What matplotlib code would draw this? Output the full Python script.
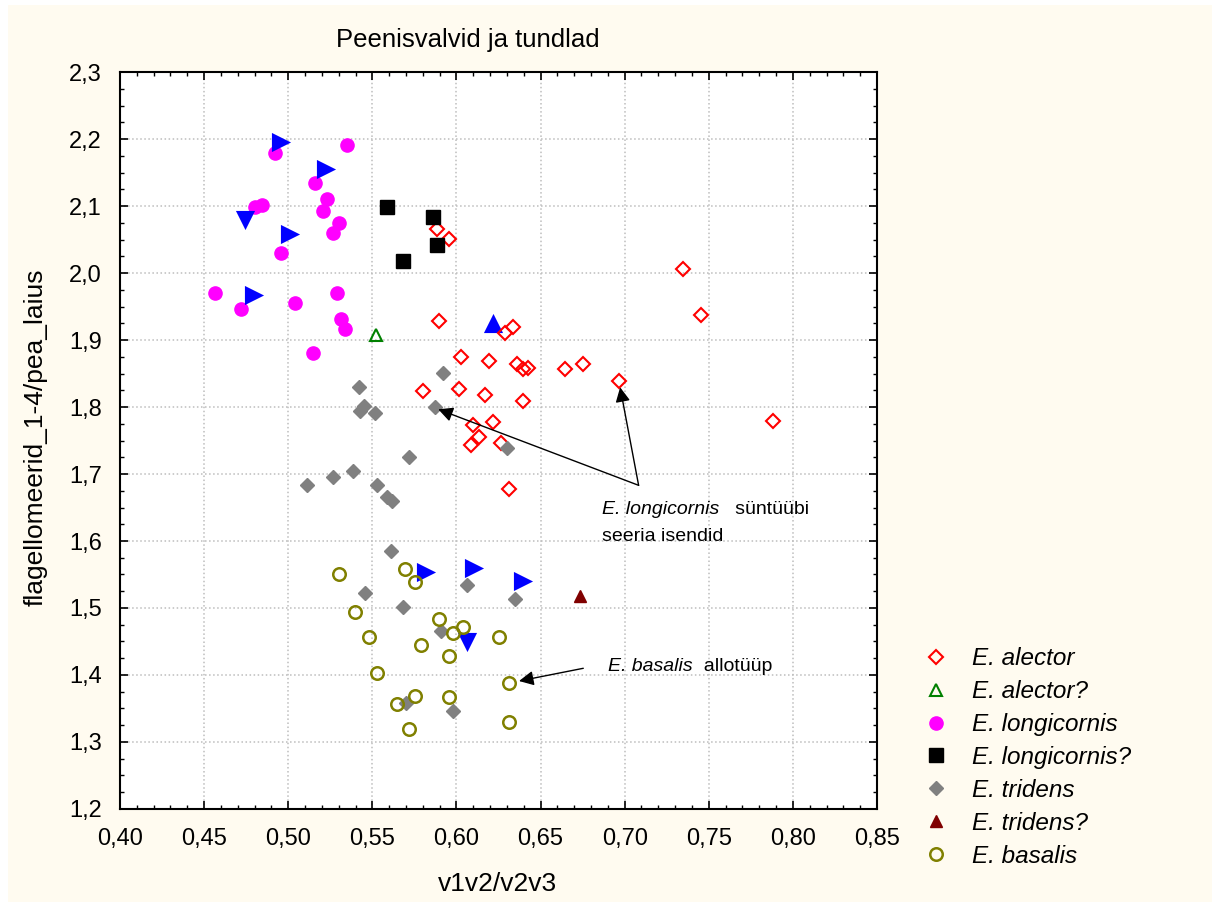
import matplotlib
matplotlib.use("Agg")
import matplotlib.pyplot as plt
from matplotlib.ticker import MultipleLocator, FuncFormatter
from matplotlib.patches import Rectangle

plt.rcParams['font.family'] = ['Liberation Sans', 'DejaVu Sans']

# data
alector_x = [0.5886, 0.5958, 0.7347, 0.5898, 0.6334, 0.6291, 0.6029, 0.6196, 0.6360,
             0.6398, 0.6423, 0.6647, 0.6754, 0.6966, 0.5803, 0.6015, 0.6170, 0.6398,
             0.6099, 0.6219, 0.6134, 0.6087, 0.6265, 0.6314, 0.7452, 0.7880]
alector_y = [2.0652, 2.0503, 2.0060, 1.9284, 1.9199, 1.9100, 1.8751, 1.8687, 1.8637,
             1.8567, 1.8575, 1.8567, 1.8637, 1.8388, 1.8239, 1.8269, 1.8179, 1.8094,
             1.7731, 1.7769, 1.7557, 1.7430, 1.7467, 1.6779, 1.9373, 1.7791]

alector_q_x = [0.5522]
alector_q_y = [1.9075]

longi_x = [0.4921, 0.5351, 0.5161, 0.5232, 0.5209, 0.4803, 0.4842, 0.5304, 0.5268,
           0.4959, 0.4567, 0.4721, 0.5042, 0.5292, 0.5314, 0.5339, 0.5149]
longi_y = [2.1796, 2.1910, 2.1348, 2.1109, 2.0930, 2.0985, 2.1015, 2.0751, 2.0597,
           2.0299, 1.9706, 1.9463, 1.9557, 1.9706, 1.9318, 1.9164, 1.8810]

longi_q_x = [0.5589, 0.5859, 0.5886, 0.5684]
longi_q_y = [2.0990, 2.0840, 2.0418, 2.0184]

tridens_x = [0.5922, 0.5423, 0.5427, 0.5451, 0.5518, 0.5870, 0.6298, 0.5720, 0.5113,
             0.5268, 0.5387, 0.5530, 0.5589, 0.5615, 0.5613, 0.5458, 0.5684, 0.6061,
             0.6350, 0.5908, 0.5700, 0.5981]
tridens_y = [1.8512, 1.8303, 1.7945, 1.8015, 1.7915, 1.8004, 1.7384, 1.7258, 1.6840,
             1.6960, 1.7049, 1.6840, 1.6661, 1.6597, 1.5851, 1.5228, 1.5019, 1.5348,
             1.5134, 1.4661, 1.3587, 1.3467]

tridens_q_x = [0.6735]
tridens_q_y = [1.5179]

basalis_x = [0.5304, 0.5696, 0.5756, 0.5399, 0.5482, 0.5898, 0.6037, 0.5978, 0.5789,
             0.6253, 0.5957, 0.5530, 0.6313, 0.5754, 0.5645, 0.5958, 0.6313, 0.5716]
basalis_y = [1.5503, 1.5582, 1.5384, 1.4936, 1.4572, 1.4840, 1.4721, 1.4631, 1.4452,
             1.4572, 1.4279, 1.4034, 1.3885, 1.3682, 1.3563, 1.3676, 1.3294, 1.3199]

# blue triangles (no legend entry), grouped by pointing direction
tri_x = [0.4957, 0.5225, 0.5011, 0.4798, 0.5819, 0.6105, 0.6394]
tri_y = [2.1960, 2.1552, 2.0582, 1.9672, 1.5542, 1.5601, 1.5407]
tri_down_x = [0.4743, 0.6061]
tri_down_y = [2.0791, 1.4497]
tri_up_x = [0.6216]
tri_up_y = [1.9249]

fig = plt.figure(figsize=(12.16, 9.05), dpi=100)
fig.patch.set_facecolor('white')
fig.patches.append(Rectangle((0.0066, 0.003), 0.99, 0.991, transform=fig.transFigure,
                             facecolor='#FFFBF0', edgecolor='none', zorder=-10))
ax = fig.add_axes([0.0987, 0.1061, 0.6225, 0.8143])
ax.set_facecolor('white')

ax.scatter(tri_x, tri_y, marker='>', s=190, color='#0000FF', zorder=3, linewidths=0)
ax.scatter(tri_down_x, tri_down_y, marker='v', s=190, color='#0000FF', zorder=3, linewidths=0)
ax.scatter(tri_up_x, tri_up_y, marker='^', s=190, color='#0000FF', zorder=3, linewidths=0)

ax.plot(alector_x, alector_y, 'D', ms=7, mfc='none', mec='#FF0000', mew=1.5, ls='none',
        label='E. alector', zorder=4)
ax.plot(alector_q_x, alector_q_y, '^', ms=8, mfc='none', mec='#008000', mew=1.5, ls='none',
        label='E. alector?', zorder=4)
ax.plot(longi_x, longi_y, 'o', ms=9.5, color='#FF00FF', ls='none',
        label='E. longicornis', zorder=2)
ax.plot(longi_q_x, longi_q_y, 's', ms=9.5, color='#000000', ls='none',
        label='E. longicornis?', zorder=4)
ax.plot(tridens_x, tridens_y, 'D', ms=7.5, color='#808080', ls='none',
        label='E. tridens', zorder=4)
ax.plot(tridens_q_x, tridens_q_y, '^', ms=8, color='#800000', ls='none',
        label='E. tridens?', zorder=4)
ax.plot(basalis_x, basalis_y, 'o', ms=9, mfc='none', mec='#808000', mew=1.8, ls='none',
        label='E. basalis', zorder=4)

ax.set_xlim(0.40, 0.85)
ax.set_ylim(1.2, 2.3)
ax.xaxis.set_major_locator(MultipleLocator(0.05))
ax.xaxis.set_minor_locator(MultipleLocator(0.01))
ax.yaxis.set_major_locator(MultipleLocator(0.1))
ax.yaxis.set_minor_locator(MultipleLocator(0.025))
ax.xaxis.set_major_formatter(FuncFormatter(lambda v, p: f"{v:.2f}".replace('.', ',')))
ax.yaxis.set_major_formatter(FuncFormatter(lambda v, p: f"{v:.1f}".replace('.', ',')))
ax.tick_params(which='both', direction='in', top=True, right=True, labelsize=17, color='black')
ax.tick_params(which='major', length=6, width=1.2)
ax.tick_params(which='minor', length=3, width=1.0)
ax.tick_params(axis='x', which='major', pad=14)
ax.tick_params(axis='y', which='major', pad=13)
for sp in ax.spines.values():
    sp.set_linewidth(1.5)
ax.grid(True, which='major', color='#BDBDBD', linestyle=':', linewidth=1.1)
ax.set_axisbelow(True)

fig.text(468 / 1216, 1 - 40 / 905, 'Peenisvalvid ja tundlad', fontsize=18.5,
         ha='center', va='center')
fig.text(497 / 1216, 1 - 884 / 905, 'v1v2/v2v3', fontsize=19, ha='center', va='center')
fig.text(36 / 1216, 1 - 437 / 905, 'flagellomeerid_1-4/pea_laius', fontsize=19,
         ha='center', va='center', rotation=90)

# annotations
arrow = dict(arrowstyle='-|>', color='black', lw=1.0, mutation_scale=22,
             shrinkA=0, shrinkB=0)
ax.annotate('', xy=(0.5892, 1.7966), xytext=(0.7083, 1.6831), arrowprops=arrow, zorder=5)
ax.annotate('', xy=(0.6973, 1.8294), xytext=(0.7083, 1.6831), arrowprops=arrow, zorder=5)
ax.annotate('', xy=(0.6372, 1.3910), xytext=(0.6754, 1.4100), arrowprops=arrow, zorder=5)

t1 = ax.text(0.6865, 1.6463, 'E. longicornis', fontsize=14, style='italic', va='center')
ax.annotate('   süntüübi', xy=(1, 0.5), xycoords=t1, fontsize=14, va='center')
ax.text(0.6865, 1.6060, 'seeria isendid', fontsize=14, va='center')
t2 = ax.text(0.6901, 1.4120, 'E. basalis', fontsize=14, style='italic', va='center')
ax.annotate('  allotüüp', xy=(1, 0.5), xycoords=t2, fontsize=14, va='center')

leg = fig.legend(loc='upper left', bbox_to_anchor=(0.7479, 0.2984), frameon=False,
                 prop={'style': 'italic', 'size': 17.5}, labelspacing=0.41,
                 handletextpad=0.88, handlelength=1.2, borderpad=0)

fig.savefig('out.png', dpi=100, facecolor=fig.get_facecolor())
